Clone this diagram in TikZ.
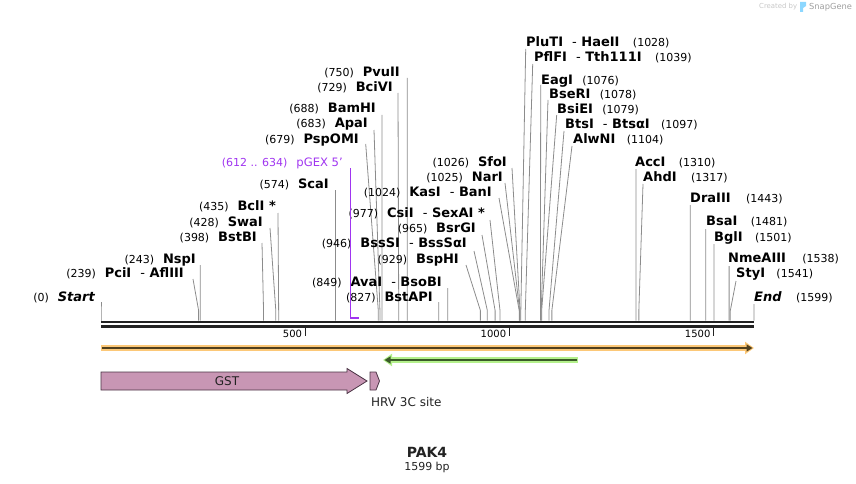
\documentclass[tikz,border=0pt]{standalone}
\usepackage{fontspec}
\setmainfont{DejaVu Sans}
\usetikzlibrary{positioning}
\usetikzlibrary{arrows.meta}

\definecolor{cutgray}{HTML}{8C8C8C}
\definecolor{primerpurple}{HTML}{A035F0}
\definecolor{orangeband}{HTML}{FCC878}
\definecolor{orangedark}{HTML}{50401E}
\definecolor{greenband}{HTML}{B4F08C}
\definecolor{greendark}{HTML}{3A5A28}
\definecolor{gstpink}{HTML}{C896B4}
\definecolor{gstborder}{HTML}{4B3445}
\definecolor{backbone}{HTML}{222222}

\newcommand{\cutsite}[4]{%
  \coordinate (#1 cut) at ({101+#2*0.40838},320.5);
  \coordinate (#1 top) at (#3,#4);
  \draw[cut line] (#1 cut) -- ++(0,-10) -- (#1 top);}
\newcommand{\sepdash}{\ \ {\mdseries -}\ }

\begin{document}
\begin{tikzpicture}[x=1pt,y=-1pt,
        enzyme node/.style={inner sep=0pt,font=\fontsize{13}{15}\selectfont\bfseries},
        number node/.style={inner sep=0pt,font=\fontsize{11}{13}\selectfont},
        cut line/.style={draw=cutgray,line width=0.8pt},
        feature text/.style={inner sep=0pt,font=\fontsize{12}{14}\selectfont},
    ]
    \useasboundingbox (0,0) rectangle (856,484);

    \node[inner sep=0pt,font=\fontsize{6.9}{8}\selectfont,text=black!22,anchor=west] (made) at (759,7) {Created by};
    \fill[blue!35!cyan!45] (800,2) -- (806,2) -- (806,6) -- (803,8) -- (803,12) -- (800,12) -- cycle;
    \node[inner sep=0pt,font=\fontsize{8.3}{9}\selectfont,text=black!38,anchor=west] (snap) at (809,7) {SnapGene};

    \cutsite{start}{0}{101}{302}
    \cutsite{pci}{239}{193}{279}
    \cutsite{nsp}{243}{200.2}{265}
    \cutsite{bstb}{398}{262}{243}
    \cutsite{swa}{428}{270}{228}
    \cutsite{bcl}{435}{278}{213}
    \cutsite{sca}{574}{335.4}{190}
    \cutsite{pspom}{679}{365.7}{144}
    \cutsite{apa}{683}{374}{130}
    \cutsite{bamh}{688}{382}{115}
    \cutsite{bcivi}{729}{398}{93}
    \cutsite{pvuii}{750}{407.3}{78}
    \cutsite{bstap}{827}{438.7}{302}
    \cutsite{ava}{849}{447.7}{288}
    \cutsite{bsph}{929}{466}{265}
    \cutsite{bsss}{946}{474}{251}
    \cutsite{bsrg}{965}{482}{235}
    \cutsite{csi}{977}{490}{220}
    \cutsite{kas}{1024}{499}{198}
    \cutsite{nar}{1025}{505}{183}
    \cutsite{sfo}{1026}{512}{168}
    \cutsite{plut}{1028}{525.7}{49}
    \cutsite{pflf}{1039}{532.7}{64}
    \cutsite{eag}{1076}{540.7}{85}
    \cutsite{bser}{1078}{548}{100}
    \cutsite{bsie}{1079}{556.7}{115}
    \cutsite{bts}{1097}{564}{131}
    \cutsite{alwn}{1104}{572}{146}
    \cutsite{acc}{1310}{636}{169}
    \cutsite{ahd}{1317}{643}{184}
    \cutsite{draiii}{1443}{690.3}{205}
    \cutsite{bsa}{1481}{705.8}{229}
    \cutsite{bgl}{1501}{714}{244}
    \cutsite{nme}{1538}{729.1}{266}
    \cutsite{sty}{1541}{736}{281}
    \cutsite{end}{1599}{754}{304}

    \node[enzyme node,anchor=base east] (start) at (95,301.5) {\itshape Start};
    \node[number node,base left=8.5pt of start] (start num) {(0)};
    \node[enzyme node,anchor=base east] (pci) at (184,277.5) {PciI\sepdash AflIII};
    \node[number node,base left=8.5pt of pci] (pci num) {(239)};
    \node[enzyme node,anchor=base east] (nsp) at (196,263.5) {NspI};
    \node[number node,base left=8.5pt of nsp] (nsp num) {(243)};
    \node[enzyme node,anchor=base east] (bstb) at (257,241.5) {BstBI};
    \node[number node,base left=8.5pt of bstb] (bstb num) {(398)};
    \node[enzyme node,anchor=base east] (swa) at (263,226.5) {SwaI};
    \node[number node,base left=8.5pt of swa] (swa num) {(428)};
    \node[enzyme node,anchor=base east] (bcl) at (276,210.5) {BclI *};
    \node[number node,base left=8.5pt of bcl] (bcl num) {(435)};
    \node[enzyme node,anchor=base east] (sca) at (329,188.5) {ScaI};
    \node[number node,base left=8.5pt of sca] (sca num) {(574)};
    \node[feature text,text=primerpurple,font=\fontsize{11.6}{13}\selectfont,anchor=base east] (pgex) at (343,166.5) {pGEX 5'};
    \node[number node,text=primerpurple,base left=8.5pt of pgex] (pgex num) {(612 .. 634)};
    \node[enzyme node,anchor=base east] (pspom) at (359,143.5) {PspOMI};
    \node[number node,base left=8.5pt of pspom] (pspom num) {(679)};
    \node[enzyme node,anchor=base east] (apa) at (368,127.5) {ApaI};
    \node[number node,base left=8.5pt of apa] (apa num) {(683)};
    \node[enzyme node,anchor=base east] (bamh) at (376,112.5) {BamHI};
    \node[number node,base left=8.5pt of bamh] (bamh num) {(688)};
    \node[enzyme node,anchor=base east] (bcivi) at (393,91.5) {BciVI};
    \node[number node,base left=8.5pt of bcivi] (bcivi num) {(729)};
    \node[enzyme node,anchor=base east] (pvuii) at (400,76.5) {PvuII};
    \node[number node,base left=8.5pt of pvuii] (pvuii num) {(750)};
    \node[enzyme node,anchor=base east] (bstap) at (433,301.5) {BstAPI};
    \node[number node,base left=8.5pt of bstap] (bstap num) {(827)};
    \node[enzyme node,anchor=base east] (ava) at (442,286.5) {AvaI\sepdash BsoBI};
    \node[number node,base left=8.5pt of ava] (ava num) {(849)};
    \node[enzyme node,anchor=base east] (bsph) at (459,263.5) {BspHI};
    \node[number node,base left=8.5pt of bsph] (bsph num) {(929)};
    \node[enzyme node,anchor=base east] (bsss) at (467,247.5) {BssSI\sepdash BssSαI};
    \node[number node,base left=8.5pt of bsss] (bsss num) {(946)};
    \node[enzyme node,anchor=base east] (bsrg) at (476,232.5) {BsrGI};
    \node[number node,base left=8.5pt of bsrg] (bsrg num) {(965)};
    \node[enzyme node,anchor=base east] (csi) at (485,217.5) {CsiI\sepdash SexAI *};
    \node[number node,base left=8.5pt of csi] (csi num) {(977)};
    \node[enzyme node,anchor=base east] (kas) at (492,196.5) {KasI\sepdash BanI};
    \node[number node,base left=8.5pt of kas] (kas num) {(1024)};
    \node[enzyme node,anchor=base east] (nar) at (503,181.5) {NarI};
    \node[number node,base left=8.5pt of nar] (nar num) {(1025)};
    \node[enzyme node,anchor=base east] (sfo) at (507,166.5) {SfoI};
    \node[number node,base left=8.5pt of sfo] (sfo num) {(1026)};

    \node[enzyme node,anchor=base west] (plut) at (526,46.5) {PluTI\sepdash HaeII};
    \node[number node,base right=13pt of plut] (plut num) {(1028)};
    \node[enzyme node,anchor=base west] (pflf) at (534,61.5) {PflFI\sepdash Tth111I};
    \node[number node,base right=13pt of pflf] (pflf num) {(1039)};
    \node[enzyme node,anchor=base west] (eag) at (541,84.5) {EagI};
    \node[number node,base right=9pt of eag] (eag num) {(1076)};
    \node[enzyme node,anchor=base west] (bser) at (549,98.5) {BseRI};
    \node[number node,base right=9pt of bser] (bser num) {(1078)};
    \node[enzyme node,anchor=base west] (bsie) at (557,113.5) {BsiEI};
    \node[number node,base right=9pt of bsie] (bsie num) {(1079)};
    \node[enzyme node,anchor=base west] (bts) at (565,128.5) {BtsI\sepdash BtsαI};
    \node[number node,base right=11pt of bts] (bts num) {(1097)};
    \node[enzyme node,anchor=base west] (alwn) at (573,143.5) {AlwNI};
    \node[number node,base right=11pt of alwn] (alwn num) {(1104)};
    \node[enzyme node,anchor=base west] (acc) at (635,166.5) {AccI};
    \node[number node,base right=13pt of acc] (acc num) {(1310)};
    \node[enzyme node,anchor=base west] (ahd) at (643,181.5) {AhdI};
    \node[number node,base right=14pt of ahd] (ahd num) {(1317)};
    \node[enzyme node,anchor=base west] (draiii) at (690,202.5) {DraIII};
    \node[number node,base right=15pt of draiii] (draiii num) {(1443)};
    \node[enzyme node,anchor=base west] (bsa) at (706,225.5) {BsaI};
    \node[number node,base right=13pt of bsa] (bsa num) {(1481)};
    \node[enzyme node,anchor=base west] (bgl) at (714,241.5) {BglI};
    \node[number node,base right=12pt of bgl] (bgl num) {(1501)};
    \node[enzyme node,anchor=base west] (nme) at (728,262.5) {NmeAIII};
    \node[number node,base right=16pt of nme] (nme num) {(1538)};
    \node[enzyme node,anchor=base west] (sty) at (736,277.5) {StyI};
    \node[number node,base right=11pt of sty] (sty num) {(1541)};
    \node[enzyme node,anchor=base west] (end) at (754,301.5) {\itshape End};
    \node[number node,base right=14pt of end] (end num) {(1599)};

    \coordinate (primer top) at (350.5,168);
    \coordinate (primer end) at (359,318);
    \draw[primerpurple,line width=1.5pt] (primer top) |- (primer end);

    \coordinate (seq start) at (101,0);
    \coordinate (seq end) at (754,0);
    \draw[backbone,line width=2.5pt] (seq start |- 0,322.2) -- (seq end |- 0,322.2);
    \draw[backbone,line width=2.7pt] (seq start |- 0,326.5) -- (seq end |- 0,326.5);

    \foreach \bp in {500,1000,1500} {
        \draw[backbone,line width=1pt] ({101+\bp*0.40838},328) -- ++(0,8);
        \node[inner sep=0pt,font=\fontsize{10}{12}\selectfont,anchor=east] (tick \bp) at ({98+\bp*0.40838},333.5) {\bp};
    }

    \coordinate (insert start) at (101,348);
    \coordinate (insert end) at (754,348);
    \draw[orangeband,line width=6pt,-{Triangle[length=9pt,width=12pt]}] (insert start) -- (insert end);
    \draw[orangedark,line width=2pt,-{Triangle[length=6pt,width=7pt]}] ([xshift=1pt]insert start) -- ([xshift=-1.5pt]insert end);

    \coordinate (pak right) at (578,360);
    \coordinate (pak left) at (383,360);
    \draw[greenband,line width=6pt,-{Triangle[length=9pt,width=12pt]}] (pak right) -- (pak left);
    \draw[greendark,line width=2pt,-{Triangle[length=6pt,width=7pt]}] ([xshift=-1pt]pak right) -- ([xshift=1.5pt]pak left);

    \filldraw[fill=gstpink,draw=gstborder,line width=0.8pt]
        (101,372) -- (347,372) -- (347,368.5) -- (367,381) -- (347,393.5) -- (347,390) -- (101,390) -- cycle;
    \node[feature text,text=backbone] (gst) at (227,381) {GST};
    \filldraw[fill=gstpink,draw=gstborder,line width=0.8pt]
        (370,372) -- (376,372) -- (379.5,381) -- (376,390) -- (370,390) -- cycle;
    \node[feature text,text=backbone,anchor=west] (hrv) at (371,402.5) {HRV 3C site};

    \node[inner sep=0pt,font=\fontsize{14}{16}\selectfont\bfseries,text=backbone] (title) at (427,452) {PAK4};
    \node[inner sep=0pt,font=\fontsize{11}{13}\selectfont,text=backbone,below=5pt of title] (length) {1599 bp};
\end{tikzpicture}
\end{document}
